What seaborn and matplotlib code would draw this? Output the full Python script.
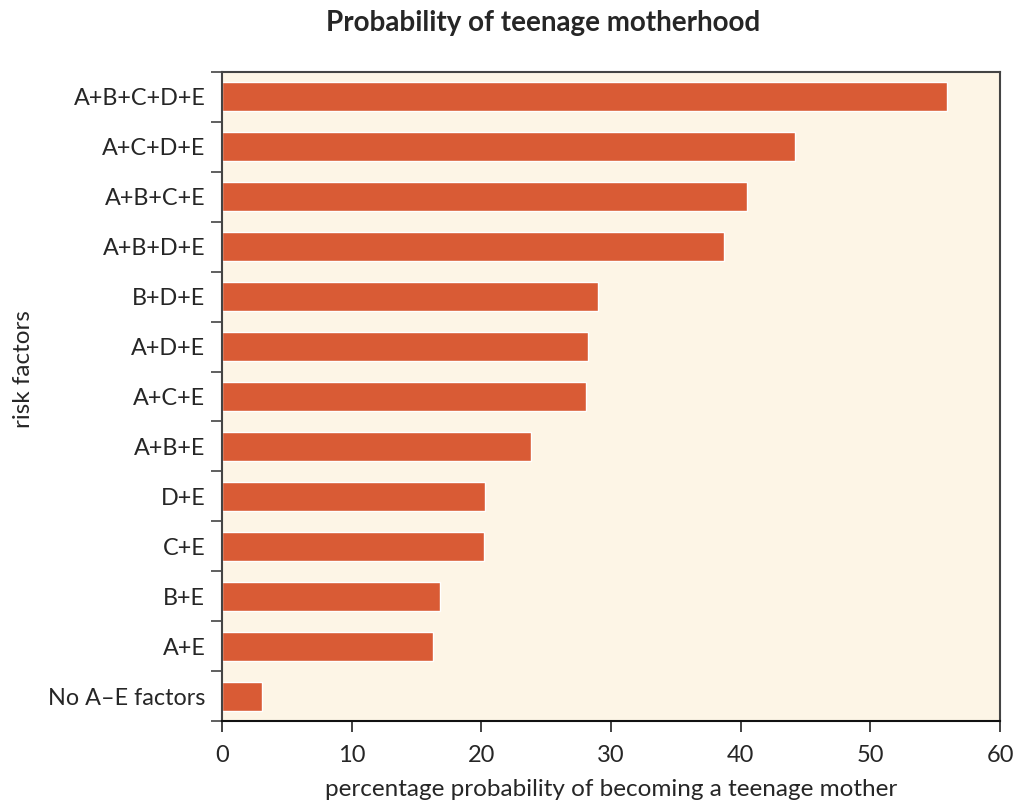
import matplotlib
matplotlib.use("Agg")
import matplotlib.pyplot as plt
import seaborn as sns
import pandas as pd
import numpy as np

categories = ["A+B+C+D+E", "A+C+D+E", "A+B+C+E", "A+B+D+E", "B+D+E", "A+D+E",
              "A+C+E", "A+B+E", "D+E", "C+E", "B+E", "A+E", "No A\u2013E factors"]
values = [55.9, 44.2, 40.5, 38.7, 29.0, 28.2, 28.1, 23.8, 20.3, 20.2, 16.8, 16.3, 3.1]
x_ticks = [0, 10, 20, 30, 40, 50, 60]

sns.set_style("white")
plt.rcParams['font.family'] = ['Lato', 'DejaVu Sans']

df = pd.DataFrame({"cat": categories, "val": values})

fig = plt.figure(figsize=(10.13, 8.01), dpi=100)
ax = fig.add_axes([222/1013, 80/801, 778/1013, 649/801])
ax.set_facecolor("#FDF5E6")
sns.barplot(data=df, x="val", y="cat", order=categories, color="#D95B35",
            saturation=1, width=0.58, ax=ax, orient="h")
ax.set_xlim(0, 60)
ax.set_ylim(12.5, -0.5)
ax.set_xticks(x_ticks)
ax.set_xticklabels([str(t) for t in x_ticks], fontsize=17)
ax.set_yticks(range(len(categories)))
ax.set_yticklabels(categories, fontsize=16.8)
ax.tick_params(axis="y", which="major", left=True, length=0, pad=12)
ax.set_yticks(np.arange(-0.5, len(categories), 1), minor=True)
ax.tick_params(axis="y", which="minor", left=True, length=8, width=1.2, color="#444444")
ax.tick_params(axis="x", bottom=True, length=8, width=1.2, color="#222222", pad=9)
for s in ax.spines.values():
    s.set_visible(True)
    s.set_linewidth(1.5)
    s.set_color("#444444")
ax.spines["bottom"].set_color("#111111")
ax.set_xlabel("percentage probability of becoming a teenage mother", fontsize=17.5, labelpad=10)
ax.set_ylabel("risk factors", fontsize=17.5)
ax.yaxis.set_label_coords(-0.242, 0.542)
fig.text(543/1013, 1 - 23/801, "Probability of teenage motherhood", ha="center", va="center",
         fontsize=20, fontweight="bold")
fig.savefig("out.png", dpi=100)
